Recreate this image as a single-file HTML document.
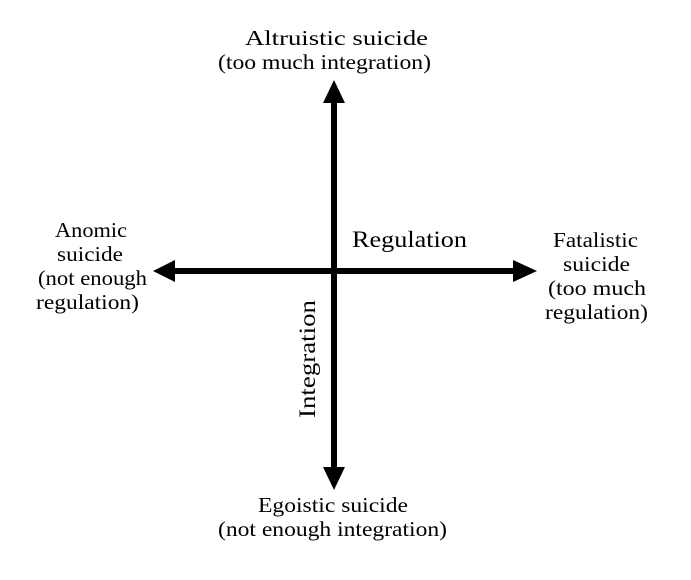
<!DOCTYPE html>
<html><head><style>
body{margin:0;background:#fff;width:691px;height:580px;overflow:hidden}
svg{display:block}
text{font-family:"Liberation Serif",serif;font-size:21px;fill:#000}
</style></head><body>
<svg width="691" height="580" viewBox="0 0 691 580">
<line x1="334" y1="100" x2="334" y2="468" stroke="#000" stroke-width="6"/>
<polygon points="334,80 323,103 345,103" fill="#000"/>
<polygon points="334,490 323,467 345,467" fill="#000"/>
<line x1="172" y1="271" x2="516" y2="271" stroke="#000" stroke-width="6"/>
<polygon points="153,271 175,260 175,282" fill="#000"/>
<polygon points="537,271 513,260 513,282" fill="#000"/>
<g lengthAdjust="spacingAndGlyphs">
<text x="245" y="45" textLength="183" lengthAdjust="spacingAndGlyphs">Altruistic suicide</text>
<text x="218" y="69" textLength="213" lengthAdjust="spacingAndGlyphs">(too much integration)</text>
<text x="258" y="512" textLength="150" lengthAdjust="spacingAndGlyphs">Egoistic suicide</text>
<text x="218" y="536" textLength="229" lengthAdjust="spacingAndGlyphs">(not enough integration)</text>
<text x="55" y="237" textLength="72" lengthAdjust="spacingAndGlyphs">Anomic</text>
<text x="57" y="261" textLength="66" lengthAdjust="spacingAndGlyphs">suicide</text>
<text x="38" y="285" textLength="109" lengthAdjust="spacingAndGlyphs">(not enough</text>
<text x="36" y="309" textLength="103" lengthAdjust="spacingAndGlyphs">regulation)</text>
<text x="553" y="247" textLength="85" lengthAdjust="spacingAndGlyphs">Fatalistic</text>
<text x="563" y="271" textLength="67" lengthAdjust="spacingAndGlyphs">suicide</text>
<text x="548" y="295" textLength="98" lengthAdjust="spacingAndGlyphs">(too much</text>
<text x="545" y="319" textLength="103" lengthAdjust="spacingAndGlyphs">regulation)</text>
<text x="352" y="247" textLength="115" lengthAdjust="spacingAndGlyphs" style="font-size:23px">Regulation</text>
<text transform="translate(315,418) rotate(-90)" textLength="118" lengthAdjust="spacingAndGlyphs" style="font-size:23px">Integration</text>
</g>
</svg>
</body></html>
